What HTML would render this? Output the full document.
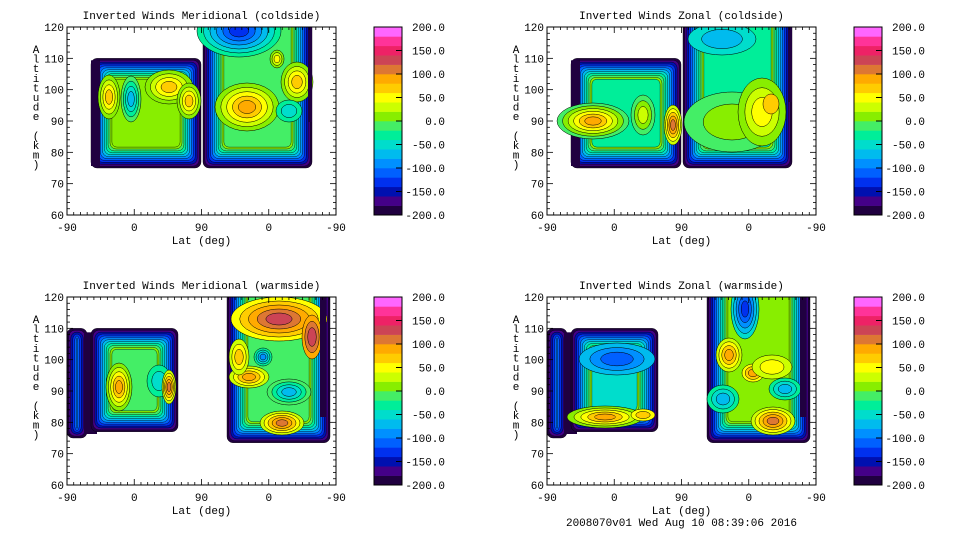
<!DOCTYPE html>
<html><head><meta charset="utf-8"><style>
html,body{margin:0;padding:0;background:#fff;}
svg{display:block;}
text{font-family:"Liberation Mono","DejaVu Sans Mono",monospace;font-size:11px;fill:#000;}
</style></head><body>
<svg id="s" width="960" height="540" xmlns="http://www.w3.org/2000/svg"></svg>
<script>
const C=['#200040','#440088','#0010b0','#0030ee','#0060ff','#0090ff','#00bbee','#00ddcc','#00ee99','#44ee66','#88ee00','#ccff00','#ffff00','#ffcc00','#ffaa00','#dd7733','#cc4455','#ee2266','#ff3399','#ff66ff'];
const S=document.getElementById('s');let out='';
const W=269,H=188,IN=1.9;
function A(a){return (120-a)*H/60;}
function block(x,y,w,h,base,topOpen,nl){
  nl=nl||10;let s='';
  for(let i=0;i<nl;i++){const d=i*IN;const yy=topOpen?y-20:y+d;const hh=topOpen?h+20-d:h-2*d;
    s+=`<rect x="${x+d}" y="${yy}" width="${w-2*d}" height="${hh}" rx="6" fill="${C[i]}" stroke="#000" stroke-width="0.4"/>`;}
  const d=nl*IN;
  s+=`<rect x="${x+d}" y="${topOpen?y-20:y+d}" width="${w-2*d}" height="${topOpen?h+20-d:h-2*d}" rx="5" fill="${C[base]}" stroke="#000" stroke-width="0.4"/>`;
  return s;
}
function blob(cx,cy,rx,ry,a,b){let s='';const n=Math.abs(b-a)+1;const st=a<b?1:-1;
  for(let k=0;k<n;k++){const f=1-k/(n+0.5);s+=`<ellipse cx="${cx}" cy="${cy}" rx="${rx*f}" ry="${ry*f}" fill="${C[a+k*st]}" stroke="#000" stroke-width="0.5"/>`;}
  return s;}
function strip(x,y,w,h){return `<rect x="${x}" y="${y}" width="${w}" height="${h}" fill="${C[0]}"/>`;}
let cid=0;
function panel(ox,oy,title,content,footer){
  cid++;
  let s=`<g transform="translate(${ox},${oy})"><clipPath id="c${cid}"><rect x="0" y="0" width="${W}" height="${H}"/></clipPath>`;
  s+=`<g clip-path="url(#c${cid})">${content}</g>`;
  s+=`<rect x="0" y="0" width="${W}" height="${H}" fill="none" stroke="#000" stroke-width="1"/>`;
  const xs=[0,67.25,134.5,201.75,269];const xl=['-90','0','90','0','-90'];
  for(let i=0;i<=40;i++){const x=i*W/40;const L=(i%10==0)?6:3;s+=`<line x1="${x}" y1="${H}" x2="${x}" y2="${H-L}" stroke="#000" stroke-width="0.8"/><line x1="${x}" y1="0" x2="${x}" y2="${L}" stroke="#000" stroke-width="0.8"/>`;}
  for(let i=0;i<5;i++)s+=`<text x="${xs[i]}" y="${H+16}" text-anchor="middle">${xl[i]}</text>`;
  for(let a=60;a<=120;a+=2){const y=A(a);const L=(a%10==0)?6:3;s+=`<line x1="0" y1="${y}" x2="${L}" y2="${y}" stroke="#000" stroke-width="0.8"/><line x1="${W}" y1="${y}" x2="${W-L}" y2="${y}" stroke="#000" stroke-width="0.8"/>`;
    if(a%10==0)s+=`<text x="-3" y="${y+4}" text-anchor="end">${a}</text>`;}
  const lab="Altitude (km)";
  for(let i=0;i<lab.length;i++)s+=`<text x="-31" y="${26+i*9.6}" text-anchor="middle">${lab[i]}</text>`;
  s+=`<text x="${W/2}" y="${H+29}" text-anchor="middle">Lat (deg)</text>`;
  s+=`<text x="${W/2}" y="-8" text-anchor="middle">${title}</text>`;
  if(footer)s+=`<text x="${W/2}" y="${H+41}" text-anchor="middle">${footer}</text>`;
  const cx=307;
  for(let i=0;i<20;i++){s+=`<rect x="${cx}" y="${H-(i+1)*H/20}" width="28" height="${H/20+0.3}" fill="${C[i]}"/>`;}
  s+=`<rect x="${cx}" y="0" width="28" height="${H}" fill="none" stroke="#000" stroke-width="1"/>`;
  for(let k=0;k<9;k++){const v=200-50*k;const y=k*H/8;
    s+=`<line x1="${cx+28}" y1="${y}" x2="${cx+22}" y2="${y}" stroke="#000"/>`;
    s+=`<text x="${cx+71}" y="${y+4}" text-anchor="end">${v.toFixed(1)}</text>`;}
  s+='</g>';return s;
}
const y110=A(110),y75=A(75);
let p1=block(24,y110,110,y75-y110,10,false,11)+strip(24,y110+2,9,y75-y110-4)
 +blob(42,70,11,22,10,13)+blob(64,72,10,23,9,6)+blob(102,60,24,17,10,13)+blob(122,74,12,18,10,13)
 +block(136,0,109,y75,9,true,11)+blob(172,4,42,26,8,3)+blob(180,80,32,24,10,14)+blob(230,55,16,20,10,13)
 +blob(222,84,13,11,8,7)+blob(210,32,7,9,10,12)+strip(241,0,4,95);
out+=panel(67,27,'Inverted Winds Meridional (coldside)',p1);
let p2=block(24,y110,110,y75-y110,8,false,11)+strip(24,y110+2,9,y75-y110-4)
 +blob(46,94,36,18,9,14)+blob(96,88,12,20,9,11)+blob(126,98,9,20,11,15)
 +block(136,0,109,y75,8,true,11)+blob(175,12,34,16,7,6)+blob(185,95,48,30,9,10)+blob(215,85,24,34,10,12)+blob(224,77,8,10,13,13)
 +strip(241,0,4,75);
out+=panel(547,27,'Inverted Winds Zonal (coldside)',p2);
let p3=block(0,y110,20,y75-y110,8,false,6)+strip(17,y110+4,13,y75-y110-8)
 +block(24,y110,87,A(77)-y110,9,false,11)+blob(52,90,13,24,10,14)+blob(92,84,12,16,8,7)+blob(102,90,7,17,11,15)
 +block(160,0,103,A(73.5),9,true,11)+blob(212,22,48,22,12,16)+blob(245,40,10,22,14,16)+blob(196,60,9,9,8,5)
 +blob(222,95,22,13,9,6)+blob(182,80,20,11,11,14)+blob(215,126,22,12,11,15)+blob(172,60,10,18,11,13)
 +strip(253,0,6,120);
out+=panel(67,297,'Inverted Winds Meridional (warmside)',p3);
let p4=block(0,y110,20,y75-y110,8,false,6)+strip(17,y110+4,13,y75-y110-8)
 +block(24,y110,87,A(77)-y110,7,false,11)+blob(70,62,38,16,6,4)+blob(58,120,38,11,10,14)+blob(96,118,12,6,12,13)
 +block(160,0,103,A(73.5),10,true,11)+blob(198,12,14,30,7,3)+blob(182,58,13,17,11,14)+blob(206,76,11,9,12,14)
 +blob(176,102,16,14,8,6)+blob(226,124,22,14,11,15)+blob(238,92,16,11,8,6)+blob(225,70,20,12,11,12)
 +strip(253,0,6,120);
out+=panel(547,297,'Inverted Winds Zonal (warmside)',p4,'2008070v01 Wed Aug 10 08:39:06 2016');
S.innerHTML=out;
</script>
</body></html>
